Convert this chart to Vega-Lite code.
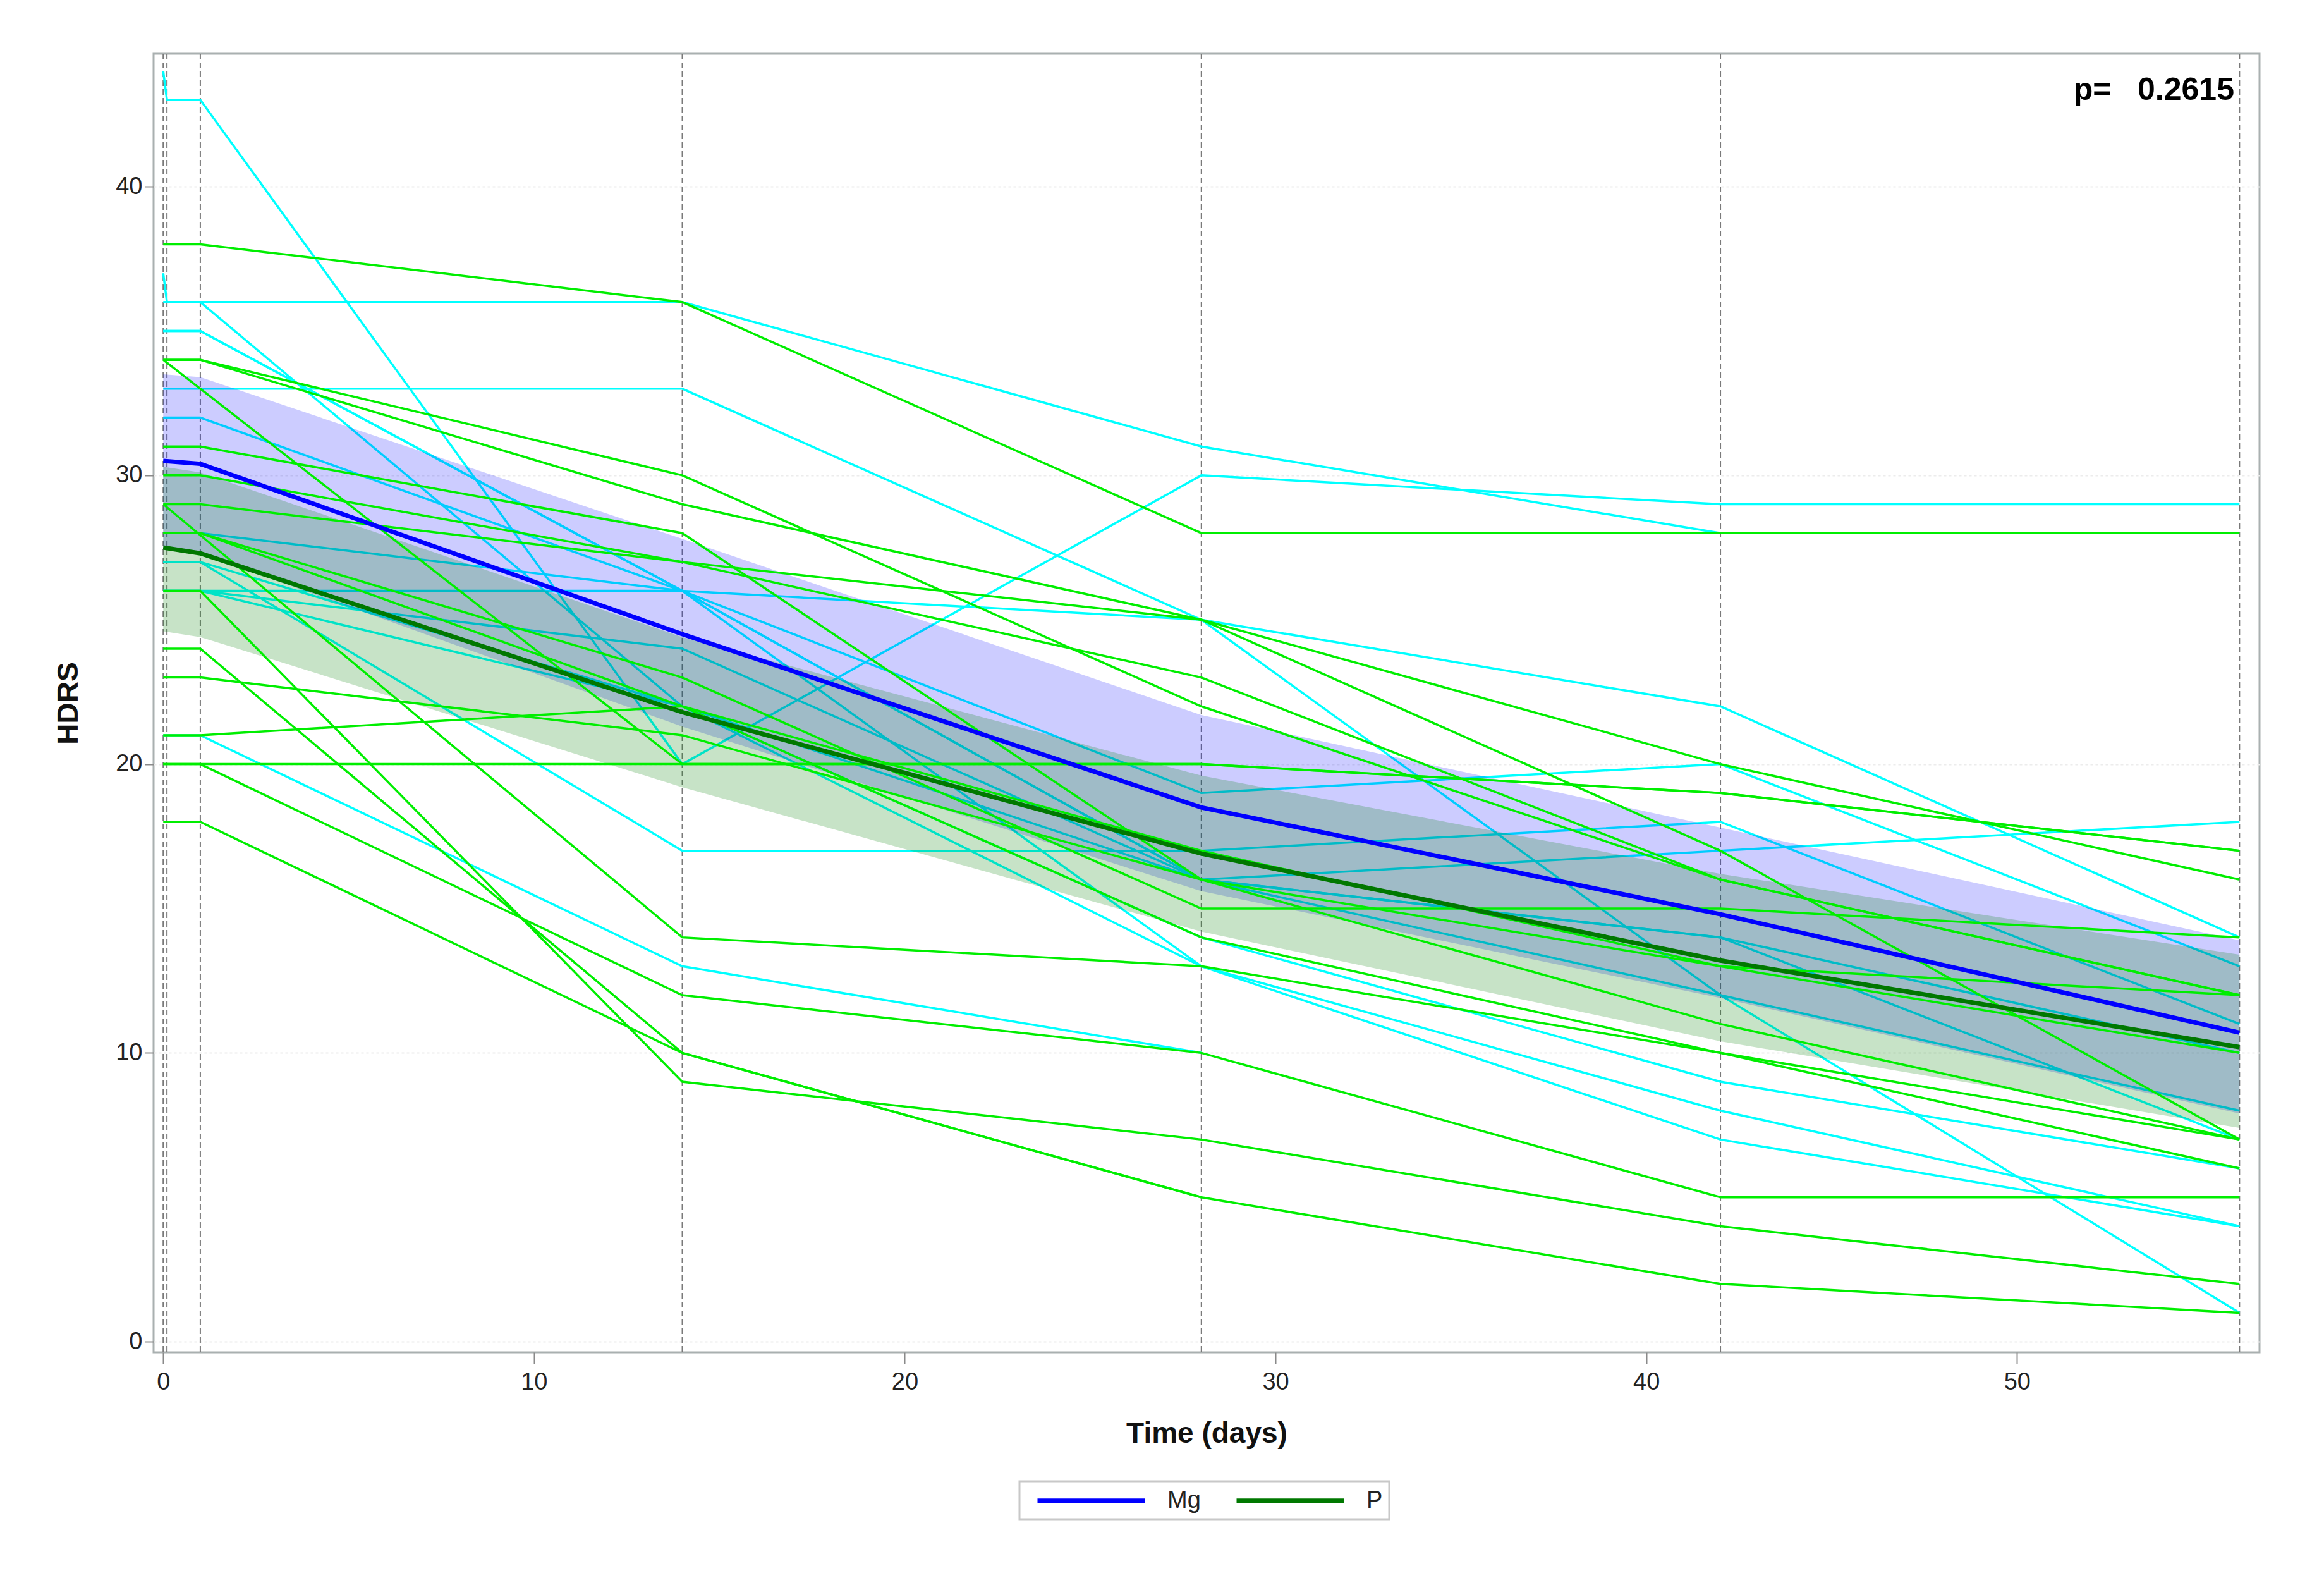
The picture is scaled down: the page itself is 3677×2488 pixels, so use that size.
{
  "$schema": "https://vega.github.io/schema/vega-lite/v6.json",
  "description": "HDRS over time, Mg vs placebo: individual trajectories, mean fit and confidence band",
  "autosize": {"type": "none"},
  "padding": {"left": 243, "top": 85, "right": 102, "bottom": 349},
  "width": 3332,
  "height": 2054,
  "background": "white",
  "title": {
    "text": "p=\u00a0\u00a0\u00a00.2615",
    "anchor": "end",
    "frame": "group",
    "orient": "top",
    "offset": -84,
    "dx": -40,
    "fontSize": 50,
    "fontWeight": "bold",
    "color": "#000000"
  },
  "datasets": {
    "visits": [
      {"day": 0}, {"day": 0.1}, {"day": 1}, {"day": 14}, {"day": 28}, {"day": 42}, {"day": 56}
    ],
    "fit": [
      {"grp": "Mg", "day": 0, "mean": 30.5, "lo": 27.5, "hi": 33.5},
      {"grp": "Mg", "day": 1, "mean": 30.4, "lo": 27.3, "hi": 33.4},
      {"grp": "Mg", "day": 14, "mean": 24.5, "lo": 21.3, "hi": 27.8},
      {"grp": "Mg", "day": 28, "mean": 18.5, "lo": 15.6, "hi": 21.7},
      {"grp": "Mg", "day": 42, "mean": 14.8, "lo": 11.9, "hi": 17.8},
      {"grp": "Mg", "day": 56, "mean": 10.7, "lo": 7.9, "hi": 13.9},
      {"grp": "P", "day": 0, "mean": 27.5, "lo": 24.6, "hi": 30.3},
      {"grp": "P", "day": 1, "mean": 27.3, "lo": 24.4, "hi": 30.1},
      {"grp": "P", "day": 14, "mean": 21.8, "lo": 19.2, "hi": 24.4},
      {"grp": "P", "day": 28, "mean": 16.9, "lo": 14.2, "hi": 19.6},
      {"grp": "P", "day": 42, "mean": 13.2, "lo": 10.4, "hi": 16.2},
      {"grp": "P", "day": 56, "mean": 10.2, "lo": 7.4, "hi": 13.4}
    ],
    "subjects": [
      {"grp": "Mg", "id": "C1", "day": 0, "hdrs": 44},
      {"grp": "Mg", "id": "C1", "day": 0.1, "hdrs": 43},
      {"grp": "Mg", "id": "C1", "day": 1, "hdrs": 43},
      {"grp": "Mg", "id": "C1", "day": 14, "hdrs": 20},
      {"grp": "Mg", "id": "C1", "day": 28, "hdrs": 30},
      {"grp": "Mg", "id": "C1", "day": 42, "hdrs": 29},
      {"grp": "Mg", "id": "C1", "day": 56, "hdrs": 29},
      {"grp": "Mg", "id": "C2", "day": 0, "hdrs": 37},
      {"grp": "Mg", "id": "C2", "day": 0.1, "hdrs": 36},
      {"grp": "Mg", "id": "C2", "day": 1, "hdrs": 36},
      {"grp": "Mg", "id": "C2", "day": 14, "hdrs": 36},
      {"grp": "Mg", "id": "C2", "day": 28, "hdrs": 31},
      {"grp": "Mg", "id": "C2", "day": 42, "hdrs": 28},
      {"grp": "Mg", "id": "C3", "day": 0, "hdrs": 36},
      {"grp": "Mg", "id": "C3", "day": 1, "hdrs": 36},
      {"grp": "Mg", "id": "C3", "day": 14, "hdrs": 22},
      {"grp": "Mg", "id": "C3", "day": 28, "hdrs": 16},
      {"grp": "Mg", "id": "C3", "day": 42, "hdrs": 14},
      {"grp": "Mg", "id": "C3", "day": 56, "hdrs": 10},
      {"grp": "Mg", "id": "C4", "day": 0, "hdrs": 33},
      {"grp": "Mg", "id": "C4", "day": 1, "hdrs": 33},
      {"grp": "Mg", "id": "C4", "day": 14, "hdrs": 33},
      {"grp": "Mg", "id": "C4", "day": 28, "hdrs": 25},
      {"grp": "Mg", "id": "C4", "day": 42, "hdrs": 22},
      {"grp": "Mg", "id": "C4", "day": 56, "hdrs": 14},
      {"grp": "Mg", "id": "C5", "day": 0, "hdrs": 35},
      {"grp": "Mg", "id": "C5", "day": 1, "hdrs": 35},
      {"grp": "Mg", "id": "C5", "day": 14, "hdrs": 26},
      {"grp": "Mg", "id": "C5", "day": 28, "hdrs": 25},
      {"grp": "Mg", "id": "C5", "day": 42, "hdrs": 12},
      {"grp": "Mg", "id": "C5", "day": 56, "hdrs": 1},
      {"grp": "Mg", "id": "C6", "day": 0, "hdrs": 32},
      {"grp": "Mg", "id": "C6", "day": 1, "hdrs": 32},
      {"grp": "Mg", "id": "C6", "day": 14, "hdrs": 26},
      {"grp": "Mg", "id": "C6", "day": 28, "hdrs": 19},
      {"grp": "Mg", "id": "C6", "day": 42, "hdrs": 20},
      {"grp": "Mg", "id": "C6", "day": 56, "hdrs": 13},
      {"grp": "Mg", "id": "C7", "day": 0, "hdrs": 28},
      {"grp": "Mg", "id": "C7", "day": 1, "hdrs": 28},
      {"grp": "Mg", "id": "C7", "day": 14, "hdrs": 26},
      {"grp": "Mg", "id": "C7", "day": 28, "hdrs": 16},
      {"grp": "Mg", "id": "C7", "day": 42, "hdrs": 12},
      {"grp": "Mg", "id": "C7", "day": 56, "hdrs": 8},
      {"grp": "Mg", "id": "C8", "day": 0, "hdrs": 27},
      {"grp": "Mg", "id": "C8", "day": 1, "hdrs": 27},
      {"grp": "Mg", "id": "C8", "day": 14, "hdrs": 17},
      {"grp": "Mg", "id": "C8", "day": 28, "hdrs": 17},
      {"grp": "Mg", "id": "C8", "day": 42, "hdrs": 18},
      {"grp": "Mg", "id": "C8", "day": 56, "hdrs": 11},
      {"grp": "Mg", "id": "C9", "day": 0, "hdrs": 26},
      {"grp": "Mg", "id": "C9", "day": 1, "hdrs": 26},
      {"grp": "Mg", "id": "C9", "day": 14, "hdrs": 24},
      {"grp": "Mg", "id": "C9", "day": 28, "hdrs": 16},
      {"grp": "Mg", "id": "C9", "day": 42, "hdrs": 17},
      {"grp": "Mg", "id": "C9", "day": 56, "hdrs": 18},
      {"grp": "Mg", "id": "C10", "day": 0, "hdrs": 27},
      {"grp": "Mg", "id": "C10", "day": 1, "hdrs": 27},
      {"grp": "Mg", "id": "C10", "day": 14, "hdrs": 22},
      {"grp": "Mg", "id": "C10", "day": 28, "hdrs": 14},
      {"grp": "Mg", "id": "C10", "day": 42, "hdrs": 9},
      {"grp": "Mg", "id": "C10", "day": 56, "hdrs": 6},
      {"grp": "Mg", "id": "C11", "day": 0, "hdrs": 21},
      {"grp": "Mg", "id": "C11", "day": 1, "hdrs": 21},
      {"grp": "Mg", "id": "C11", "day": 14, "hdrs": 13},
      {"grp": "Mg", "id": "C11", "day": 28, "hdrs": 10},
      {"grp": "Mg", "id": "C12", "day": 0, "hdrs": 26},
      {"grp": "Mg", "id": "C12", "day": 1, "hdrs": 26},
      {"grp": "Mg", "id": "C12", "day": 14, "hdrs": 22},
      {"grp": "Mg", "id": "C12", "day": 28, "hdrs": 13},
      {"grp": "Mg", "id": "C12", "day": 42, "hdrs": 8},
      {"grp": "Mg", "id": "C12", "day": 56, "hdrs": 4},
      {"grp": "Mg", "id": "C13", "day": 0, "hdrs": 26},
      {"grp": "Mg", "id": "C13", "day": 1, "hdrs": 26},
      {"grp": "Mg", "id": "C13", "day": 14, "hdrs": 26},
      {"grp": "Mg", "id": "C13", "day": 28, "hdrs": 13},
      {"grp": "Mg", "id": "C13", "day": 42, "hdrs": 7},
      {"grp": "Mg", "id": "C13", "day": 56, "hdrs": 4},
      {"grp": "Mg", "id": "C14", "day": 0, "hdrs": 35},
      {"grp": "Mg", "id": "C14", "day": 1, "hdrs": 35},
      {"grp": "Mg", "id": "C14", "day": 14, "hdrs": 26},
      {"grp": "Mg", "id": "C14", "day": 28, "hdrs": 16},
      {"grp": "Mg", "id": "C14", "day": 42, "hdrs": 14},
      {"grp": "Mg", "id": "C14", "day": 56, "hdrs": 7},
      {"grp": "P", "id": "G1", "day": 0, "hdrs": 38},
      {"grp": "P", "id": "G1", "day": 1, "hdrs": 38},
      {"grp": "P", "id": "G1", "day": 14, "hdrs": 36},
      {"grp": "P", "id": "G1", "day": 28, "hdrs": 28},
      {"grp": "P", "id": "G1", "day": 42, "hdrs": 28},
      {"grp": "P", "id": "G1", "day": 56, "hdrs": 28},
      {"grp": "P", "id": "G2", "day": 0, "hdrs": 34},
      {"grp": "P", "id": "G2", "day": 1, "hdrs": 34},
      {"grp": "P", "id": "G2", "day": 14, "hdrs": 30},
      {"grp": "P", "id": "G2", "day": 28, "hdrs": 22},
      {"grp": "P", "id": "G2", "day": 42, "hdrs": 16},
      {"grp": "P", "id": "G2", "day": 56, "hdrs": 12},
      {"grp": "P", "id": "G3", "day": 0, "hdrs": 34},
      {"grp": "P", "id": "G3", "day": 1, "hdrs": 34},
      {"grp": "P", "id": "G3", "day": 14, "hdrs": 29},
      {"grp": "P", "id": "G3", "day": 28, "hdrs": 25},
      {"grp": "P", "id": "G3", "day": 42, "hdrs": 20},
      {"grp": "P", "id": "G3", "day": 56, "hdrs": 16},
      {"grp": "P", "id": "G4", "day": 0, "hdrs": 34},
      {"grp": "P", "id": "G4", "day": 14, "hdrs": 20},
      {"grp": "P", "id": "G4", "day": 28, "hdrs": 20},
      {"grp": "P", "id": "G4", "day": 42, "hdrs": 19},
      {"grp": "P", "id": "G4", "day": 56, "hdrs": 17},
      {"grp": "P", "id": "G5", "day": 0, "hdrs": 31},
      {"grp": "P", "id": "G5", "day": 1, "hdrs": 31},
      {"grp": "P", "id": "G5", "day": 14, "hdrs": 28},
      {"grp": "P", "id": "G5", "day": 28, "hdrs": 16},
      {"grp": "P", "id": "G5", "day": 42, "hdrs": 13},
      {"grp": "P", "id": "G5", "day": 56, "hdrs": 12},
      {"grp": "P", "id": "G6", "day": 0, "hdrs": 30},
      {"grp": "P", "id": "G6", "day": 1, "hdrs": 30},
      {"grp": "P", "id": "G6", "day": 14, "hdrs": 27},
      {"grp": "P", "id": "G6", "day": 28, "hdrs": 25},
      {"grp": "P", "id": "G6", "day": 42, "hdrs": 17},
      {"grp": "P", "id": "G6", "day": 56, "hdrs": 7},
      {"grp": "P", "id": "G7", "day": 0, "hdrs": 29},
      {"grp": "P", "id": "G7", "day": 14, "hdrs": 14},
      {"grp": "P", "id": "G7", "day": 28, "hdrs": 13},
      {"grp": "P", "id": "G7", "day": 42, "hdrs": 10},
      {"grp": "P", "id": "G7", "day": 56, "hdrs": 7},
      {"grp": "P", "id": "G8", "day": 0, "hdrs": 29},
      {"grp": "P", "id": "G8", "day": 1, "hdrs": 29},
      {"grp": "P", "id": "G8", "day": 14, "hdrs": 27},
      {"grp": "P", "id": "G8", "day": 28, "hdrs": 23},
      {"grp": "P", "id": "G8", "day": 42, "hdrs": 16},
      {"grp": "P", "id": "G8", "day": 56, "hdrs": 12},
      {"grp": "P", "id": "G9", "day": 0, "hdrs": 28},
      {"grp": "P", "id": "G9", "day": 1, "hdrs": 28},
      {"grp": "P", "id": "G9", "day": 14, "hdrs": 23},
      {"grp": "P", "id": "G9", "day": 28, "hdrs": 15},
      {"grp": "P", "id": "G9", "day": 42, "hdrs": 15},
      {"grp": "P", "id": "G9", "day": 56, "hdrs": 14},
      {"grp": "P", "id": "G10", "day": 0, "hdrs": 28},
      {"grp": "P", "id": "G10", "day": 1, "hdrs": 28},
      {"grp": "P", "id": "G10", "day": 14, "hdrs": 22},
      {"grp": "P", "id": "G10", "day": 28, "hdrs": 17},
      {"grp": "P", "id": "G10", "day": 42, "hdrs": 13},
      {"grp": "P", "id": "G10", "day": 56, "hdrs": 10},
      {"grp": "P", "id": "G11", "day": 0, "hdrs": 26},
      {"grp": "P", "id": "G11", "day": 1, "hdrs": 26},
      {"grp": "P", "id": "G11", "day": 14, "hdrs": 9},
      {"grp": "P", "id": "G11", "day": 28, "hdrs": 7},
      {"grp": "P", "id": "G11", "day": 42, "hdrs": 4},
      {"grp": "P", "id": "G11", "day": 56, "hdrs": 2},
      {"grp": "P", "id": "G12", "day": 0, "hdrs": 24},
      {"grp": "P", "id": "G12", "day": 1, "hdrs": 24},
      {"grp": "P", "id": "G12", "day": 14, "hdrs": 10},
      {"grp": "P", "id": "G12", "day": 28, "hdrs": 5},
      {"grp": "P", "id": "G12", "day": 42, "hdrs": 2},
      {"grp": "P", "id": "G12", "day": 56, "hdrs": 1},
      {"grp": "P", "id": "G13", "day": 0, "hdrs": 23},
      {"grp": "P", "id": "G13", "day": 1, "hdrs": 23},
      {"grp": "P", "id": "G13", "day": 14, "hdrs": 21},
      {"grp": "P", "id": "G13", "day": 28, "hdrs": 16},
      {"grp": "P", "id": "G13", "day": 42, "hdrs": 11},
      {"grp": "P", "id": "G13", "day": 56, "hdrs": 7},
      {"grp": "P", "id": "G14", "day": 0, "hdrs": 21},
      {"grp": "P", "id": "G14", "day": 1, "hdrs": 21},
      {"grp": "P", "id": "G14", "day": 14, "hdrs": 22},
      {"grp": "P", "id": "G14", "day": 28, "hdrs": 14},
      {"grp": "P", "id": "G14", "day": 42, "hdrs": 10},
      {"grp": "P", "id": "G14", "day": 56, "hdrs": 6},
      {"grp": "P", "id": "G15", "day": 0, "hdrs": 20},
      {"grp": "P", "id": "G15", "day": 1, "hdrs": 20},
      {"grp": "P", "id": "G15", "day": 14, "hdrs": 12},
      {"grp": "P", "id": "G15", "day": 28, "hdrs": 10},
      {"grp": "P", "id": "G15", "day": 42, "hdrs": 5},
      {"grp": "P", "id": "G15", "day": 56, "hdrs": 5},
      {"grp": "P", "id": "G16", "day": 0, "hdrs": 18},
      {"grp": "P", "id": "G16", "day": 1, "hdrs": 18},
      {"grp": "P", "id": "G16", "day": 14, "hdrs": 10},
      {"grp": "P", "id": "G16", "day": 28, "hdrs": 5},
      {"grp": "P", "id": "G17", "day": 0, "hdrs": 20},
      {"grp": "P", "id": "G17", "day": 1, "hdrs": 20},
      {"grp": "P", "id": "G17", "day": 14, "hdrs": 20},
      {"grp": "P", "id": "G17", "day": 28, "hdrs": 20},
      {"grp": "P", "id": "G17", "day": 42, "hdrs": 19},
      {"grp": "P", "id": "G17", "day": 56, "hdrs": 17}
    ]
  },
  "encoding": {
    "x": {
      "field": "day",
      "type": "quantitative",
      "scale": {"domain": [-0.26, 56.54], "nice": false, "zero": false},
      "axis": {
        "values": [0, 10, 20, 30, 40, 50],
        "title": "Time (days)",
        "domain": false,
        "grid": false,
        "tickSize": 18,
        "tickWidth": 2,
        "tickColor": "#8a8a8a",
        "labelFontSize": 38,
        "labelColor": "#222222",
        "labelPadding": 10,
        "titleFontSize": 46,
        "titleFontWeight": "bold",
        "titleColor": "#111111",
        "titlePadding": 40
      }
    }
  },
  "layer": [
    {
      "data": {"name": "visits"},
      "mark": {"type": "rule", "color": "#7a7a7a", "strokeWidth": 2, "strokeDash": [9, 5]},
      "encoding": {}
    },
    {
      "data": {"name": "subjects"},
      "transform": [{"filter": "datum.grp == 'Mg'"}],
      "mark": {"type": "line", "color": "#00FFFF", "strokeWidth": 3.5},
      "encoding": {
        "y": {
          "field": "hdrs",
          "type": "quantitative",
          "scale": {"domain": [-0.37, 44.6], "nice": false, "zero": false},
          "axis": {
            "values": [0, 10, 20, 30, 40],
            "title": "HDRS",
            "domain": false,
            "grid": true,
            "gridColor": "#ececec",
            "gridDash": [4, 4],
            "gridWidth": 2,
            "tickSize": 14,
            "tickWidth": 2,
            "tickColor": "#8a8a8a",
            "labelFontSize": 38,
            "labelColor": "#222222",
            "labelPadding": 4,
            "titleFontSize": 46,
            "titleFontWeight": "bold",
            "titleColor": "#111111",
            "titlePadding": 50
          }
        },
        "detail": {"field": "id", "type": "nominal"},
        "order": {"field": "day", "type": "quantitative"}
      }
    },
    {
      "data": {"name": "fit"},
      "transform": [{"filter": "datum.grp == 'Mg'"}],
      "mark": {"type": "area", "color": "#0000FF", "opacity": 0.2},
      "encoding": {
        "y": {"field": "lo", "type": "quantitative"},
        "y2": {"field": "hi"}
      }
    },
    {
      "data": {"name": "fit"},
      "transform": [{"filter": "datum.grp == 'P'"}],
      "mark": {"type": "area", "color": "#008000", "opacity": 0.22},
      "encoding": {
        "y": {"field": "lo", "type": "quantitative"},
        "y2": {"field": "hi"}
      }
    },
    {
      "data": {"name": "subjects"},
      "transform": [{"filter": "datum.grp == 'P'"}],
      "mark": {"type": "line", "color": "#00EE00", "strokeWidth": 3.5},
      "encoding": {
        "y": {"field": "hdrs", "type": "quantitative"},
        "detail": {"field": "id", "type": "nominal"},
        "order": {"field": "day", "type": "quantitative"}
      }
    },
    {
      "data": {"name": "fit"},
      "mark": {"type": "line", "strokeWidth": 7},
      "encoding": {
        "y": {"field": "mean", "type": "quantitative"},
        "color": {
          "field": "grp",
          "type": "nominal",
          "scale": {"domain": ["Mg", "P"], "range": ["#0000FF", "#007800"]},
          "legend": {
            "orient": "none",
            "legendX": 1370,
            "legendY": 2258,
            "direction": "horizontal",
            "title": null,
            "symbolType": "M-5,0H5",
            "symbolSize": 1156,
            "symbolOffset": 83,
            "symbolStrokeWidth": 7,
            "labelFontSize": 38,
            "labelColor": "#222222",
            "labelOffset": 100,
            "columnPadding": 38,
            "strokeColor": "#c8c8c8",
            "fillColor": "#ffffff",
            "padding": 10
          }
        }
      }
    }
  ],
  "config": {
    "font": "Liberation Sans",
    "view": {"stroke": "#a9b0b0", "strokeWidth": 3},
    "legend": {"strokeWidth": 3}
  }
}
